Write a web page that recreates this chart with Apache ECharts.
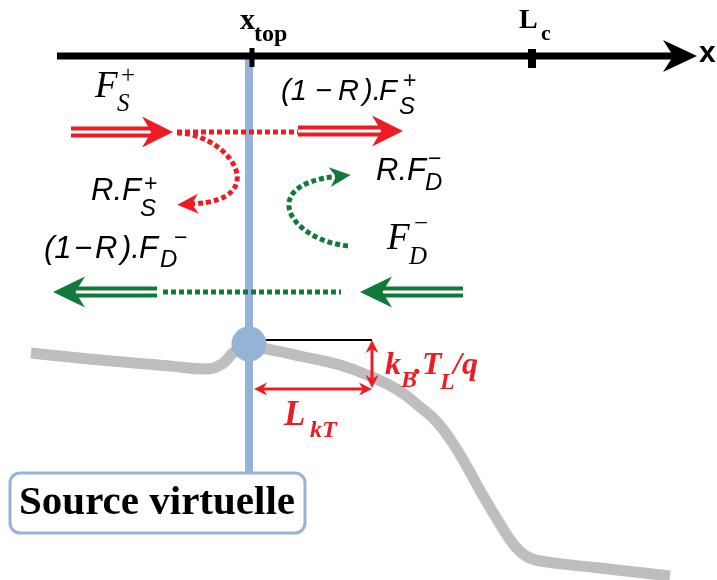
<!DOCTYPE html>
<html>
<head>
<meta charset="utf-8">
<script src="https://cdn.jsdelivr.net/npm/echarts@6/dist/echarts.min.js"></script>
<style>
  html, body { margin: 0; padding: 0; background: #fff; }
  #chart { width: 717px; height: 580px; }
</style>
</head>
<body>
<div id="chart"></div>
<script>
// diagram drawn in a 717 x 580 value space (y axis inverted, so y goes down)
const RED = '#ED1C24'
const GREEN = '#117A3A'
const BLUE = '#95B3D7'
const GRAY = '#BEBEBE'
const INK = '#000'
const SERIF = '"Liberation Serif", "Times New Roman", serif'
const SANS = '"Liberation Sans", Arial, sans-serif'

// ---- data ----
// band profile (grey curve)
const bandProfile = [
  [31, 353], [100, 360], [170, 366], [205, 369], [222, 364], [234, 352], [248, 345],
  [267, 349], [300, 356], [340, 365], [372, 377], [398, 390], [420, 407], [437, 422],
  [452, 442], [466, 465], [482, 494], [500, 524], [514, 545], [526, 556], [540, 561],
  [600, 568], [670, 576]
]
// x axis: [x0, y0, tipX, tipY]
const xAxisArrow = [[57, 56, 697, 56]]
const tickXtop = [[252, 48, 252, 67]]
const tickLc = [[532, 49, 532, 68]]
// virtual source
const sourceLine = [[249, 58], [249, 473]]
const sourcePoint = [[249, 344]]
const sourceBox = [[10, 473, 305, 533]]
// kT/q dimension
const kTLevel = [[263, 340, 372, 340]]
const dimArrows = [[372, 340, 372, 388], [254, 389, 372, 389]]
// fluxes: solid double-line arrows [x0, y0, tipX, tipY]
const fluxRed = [[71, 132, 173, 132], [298, 131, 403, 131]]
const fluxGreen = [[157, 292, 53, 292], [463, 292, 360, 292]]
// dotted transmitted parts
const dotRed = [[177, 132, 298, 132]]
const dotGreen = [[163, 292, 341, 292]]
// reflected parts: cubic [x0, y0, c1x, c1y, c2x, c2y, x3, y3]
const reflRed = [[177, 133, 228, 133, 275, 200, 192, 204]]
const reflGreen = [[348, 246, 290, 240, 256, 185, 336, 176.5]]

// text pieces: [text, left x, baseline y, font key]
const labels = [
  ['x', 240, 31, 'axB'], ['top', 254, 43, 'axSubB'],
  ['L', 519, 30, 'axB28'], ['c', 541, 42, 'axSubB22'],
  ['x', 699, 64, 'sansB'],
  ['F', 95, 100, 'fI'], ['S', 117, 113, 'fISub'], ['+', 121, 85, 'fSup'],
  ['(1', 281, 102, 'sI29'], ['\u2212', 315, 102, 'sI29'], ['R', 338, 102, 'sI29'], [').', 363, 102, 'sI29'], ['F', 379, 102, 'sI29'],
  ['S', 399, 115, 'sISub'], ['+', 403, 89, 'sSup'],
  ['R.F', 91, 202, 'sI30'], ['S', 140, 217, 'sISub'], ['+', 144, 192, 'sSup'],
  ['R.F', 376, 182, 'sI30'], ['D', 425, 191, 'sISub'], ['\u2212', 428, 167, 'sSup'],
  ['F', 387, 252, 'fI'], ['D', 409, 266, 'fISub'], ['\u2212', 414, 233, 'fSup'],
  ['(1', 44, 260, 'sI30'], ['\u2212', 74, 260, 'sI30'], ['R', 95, 260, 'sI30'], [').', 121, 260, 'sI30'], ['F', 139, 260, 'sI30'],
  ['D', 160, 268, 'sISub'], ['\u2212', 174, 246, 'sSup'],
  ['k', 385, 377, 'rI'], ['B', 401, 389, 'rISub'], ['.T', 414, 377, 'rI'], ['L', 440, 391, 'rISub'], ['/q', 453, 377, 'rI'],
  ['L', 284, 428, 'rIL'], ['kT', 310, 439, 'rISub'],
  ['Source virtuelle', 157, 517, 'box']
]

const fonts = {
  axB: [SERIF, 30, 'bold', 'normal', INK],
  axSubB: [SERIF, 24, 'bold', 'normal', INK],
  axB28: [SERIF, 28, 'bold', 'normal', INK],
  axSubB22: [SERIF, 22, 'bold', 'normal', INK],
  sansB: [SANS, 30, 'bold', 'normal', INK],
  fI: [SERIF, 37, 'normal', 'italic', INK],
  fISub: [SERIF, 25, 'normal', 'italic', INK],
  fSup: [SERIF, 25, 'normal', 'normal', INK],
  sI29: [SANS, 29, 'normal', 'italic', INK],
  sI30: [SANS, 31, 'normal', 'italic', INK],
  sISub: [SANS, 24, 'normal', 'italic', INK],
  sSup: [SANS, 23, 'normal', 'normal', INK],
  rI: [SERIF, 32, 'bold', 'italic', RED],
  rIL: [SERIF, 35, 'bold', 'italic', RED],
  rISub: [SERIF, 24, 'bold', 'italic', RED],
  box: [SERIF, 41, 'bold', 'normal', INK]
}

// ---- helpers ----
const unit = (a, b) => {
  const dx = b[0] - a[0], dy = b[1] - a[1], l = Math.hypot(dx, dy)
  return [dx / l, dy / l]
}
const back = (p, d, k) => [p[0] - d[0] * k, p[1] - d[1] * k]

// notched arrow head, tip at p, pointing along d
const head = (p, d, L, W, color) => {
  const n = [-d[1], d[0]]
  const b = back(p, d, L)
  return {
    type: 'polygon',
    shape: { points: [p, [b[0] + n[0] * W / 2, b[1] + n[1] * W / 2], back(p, d, L * 0.7), [b[0] - n[0] * W / 2, b[1] - n[1] * W / 2]] },
    style: { fill: color }
  }
}

const startPoints = (rows) => rows.map((r) => [r[0], r[1]])

const segmentSeries = (segs, color, width, z, dash) => ({
  type: 'custom', z, silent: true, animation: false,
  data: startPoints(segs),
  renderItem: (params, api) => {
    const s = segs[params.dataIndex]
    const a = api.coord([s[0], s[1]]), b = api.coord([s[2], s[3]])
    return {
      type: 'line',
      shape: { x1: a[0], y1: a[1], x2: b[0], y2: b[1] },
      style: { stroke: color, lineWidth: width, lineDash: dash || null, lineCap: 'butt' }
    }
  }
})

const arrowSeries = (segs, o) => ({
  type: 'custom', z: o.z, silent: true, animation: false,
  data: startPoints(segs),
  renderItem: (params, api) => {
    const s = segs[params.dataIndex]
    const a = api.coord([s[0], s[1]]), b = api.coord([s[2], s[3]])
    const d = unit(a, b)
    const start = o.both ? back(a, [-d[0], -d[1]], o.L * 0.7) : a
    const end = back(b, d, o.L * 0.7)
    const children = [{
      type: 'line', shape: { x1: start[0], y1: start[1], x2: end[0], y2: end[1] },
      style: { stroke: o.color, lineWidth: o.width }
    }]
    if (o.gap) {
      children.push({
        type: 'line', shape: { x1: start[0], y1: start[1], x2: end[0], y2: end[1] },
        style: { stroke: '#fff', lineWidth: o.gap }
      })
    }
    children.push(head(b, d, o.L, o.W, o.color))
    if (o.both) children.push(head(a, [-d[0], -d[1]], o.L, o.W, o.color))
    return { type: 'group', children }
  }
})

const curveSeries = (curves, color, z) => ({
  type: 'custom', z, silent: true, animation: false,
  data: startPoints(curves),
  renderItem: (params, api) => {
    const c = curves[params.dataIndex]
    const p0 = api.coord([c[0], c[1]]), c1 = api.coord([c[2], c[3]])
    const c2 = api.coord([c[4], c[5]]), p3 = api.coord([c[6], c[7]])
    const d = unit(c2, p3)
    const L = 21
    const tip = [p3[0] + d[0] * L * 0.7, p3[1] + d[1] * L * 0.7]
    return {
      type: 'group',
      children: [
        {
          type: 'bezierCurve',
          shape: { x1: p0[0], y1: p0[1], cpx1: c1[0], cpy1: c1[1], cpx2: c2[0], cpy2: c2[1], x2: p3[0], y2: p3[1] },
          style: { stroke: color, lineWidth: 5, lineDash: [5, 3], fill: null }
        },
        head(tip, d, L, 20, color)
      ]
    }
  }
})

// ---- chart ----
const chart = echarts.init(document.getElementById('chart'))

const option = {
  animation: false,
  backgroundColor: '#fff',
  grid: { left: 0, right: 0, top: 0, bottom: 0 },
  xAxis: { type: 'value', min: 0, max: 717, show: false },
  yAxis: { type: 'value', min: 0, max: 580, inverse: true, show: false },
  series: [
    {
      type: 'line', z: 1, silent: true, data: bandProfile, smooth: 0.45, showSymbol: false,
      lineStyle: { color: GRAY, width: 11 }
    },
    {
      type: 'line', z: 2, silent: true, data: sourceLine, showSymbol: false,
      lineStyle: { color: BLUE, width: 8, cap: 'butt' }
    },
    arrowSeries(xAxisArrow, { color: INK, width: 7, L: 34, W: 32, z: 3 }),
    segmentSeries(tickXtop, INK, 5, 3),
    segmentSeries(tickLc, INK, 8, 3),
    {
      type: 'custom', z: 3, silent: true, data: startPoints(sourceBox),
      renderItem: (params, api) => {
        const r = sourceBox[params.dataIndex]
        const a = api.coord([r[0], r[1]]), b = api.coord([r[2], r[3]])
        return {
          type: 'rect',
          shape: { x: a[0], y: a[1], width: b[0] - a[0], height: b[1] - a[1], r: 10 },
          style: { fill: '#fff', stroke: BLUE, lineWidth: 3 }
        }
      }
    },
    {
      type: 'scatter', z: 4, silent: true, data: sourcePoint, symbolSize: 35,
      itemStyle: { color: BLUE, opacity: 1 }
    },
    segmentSeries(kTLevel, INK, 2, 4),
    arrowSeries(dimArrows, { color: RED, width: 3, L: 13, W: 13, both: true, z: 5 }),
    segmentSeries(dotRed, RED, 5, 5, [5, 3]),
    segmentSeries(dotGreen, GREEN, 5, 5, [5, 3]),
    arrowSeries(fluxRed, { color: RED, width: 11, gap: 3, L: 31, W: 31, z: 6 }),
    arrowSeries(fluxGreen, { color: GREEN, width: 11, gap: 3, L: 32, W: 31, z: 6 }),
    curveSeries(reflRed, RED, 6),
    curveSeries(reflGreen, GREEN, 6),
    {
      type: 'custom', z: 10, silent: true, data: labels.map((t) => [t[1], t[2]]),
      renderItem: (params, api) => {
        const t = labels[params.dataIndex]
        const f = fonts[t[3]]
        const p = api.coord([t[1], t[2]])
        const centered = t[3] === 'box'
        return {
          type: 'text',
          style: {
            text: t[0], x: p[0], y: p[1] - f[1] * 0.34,
            fontFamily: f[0], fontSize: f[1], fontWeight: f[2], fontStyle: f[3], fill: f[4],
            align: centered ? 'center' : 'left', verticalAlign: 'middle'
          }
        }
      }
    }
  ]
}

chart.setOption(option)
window.addEventListener('resize', () => chart.resize())
</script>
</body>
</html>
